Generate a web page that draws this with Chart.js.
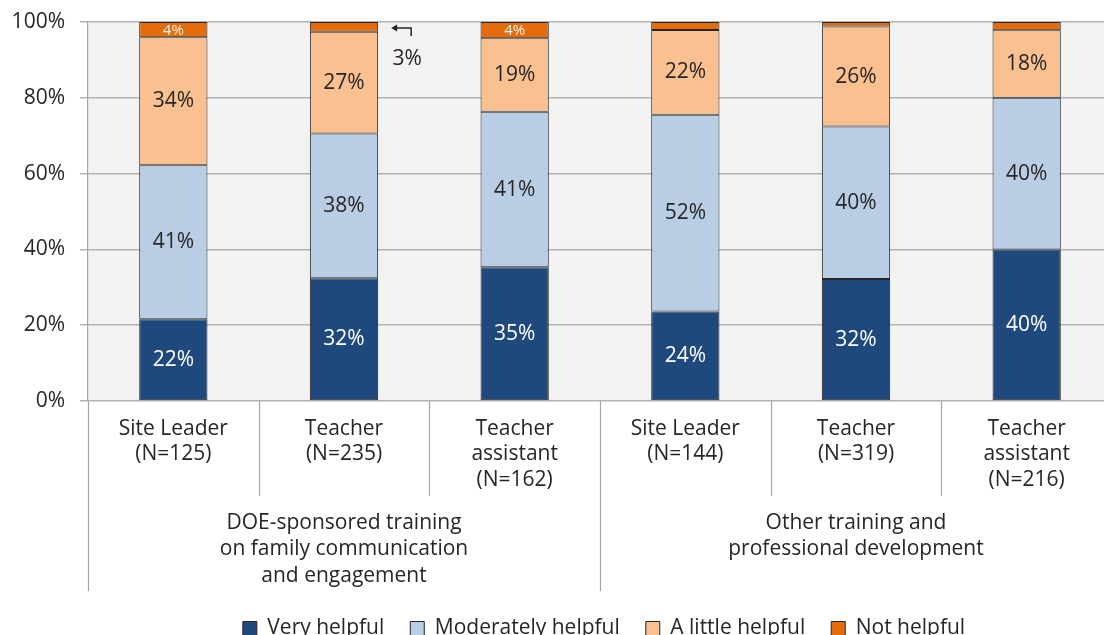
<!DOCTYPE html>
<html>
<head>
<meta charset="utf-8">
<script src="https://cdn.jsdelivr.net/npm/chart.js@4"></script>
<style>
  html, body { margin: 0; padding: 0; overflow: hidden; background: #fff; }
  #wrap { width: 1116px; height: 635px; position: relative; }
</style>
</head>
<body>
<div id="wrap"><canvas id="helpChart"></canvas></div>
<script>
// categories (multi-line labels) and the two groups under them
const categories = [
  ["Site Leader", "(N=125)"],
  ["Teacher", "(N=235)"],
  ["Teacher", "assistant", "(N=162)"],
  ["Site Leader", "(N=144)"],
  ["Teacher", "(N=319)"],
  ["Teacher", "assistant", "(N=216)"]
];
const groupLabels = [
  ["DOE-sponsored training", "on family communication", "and engagement"],
  ["Other training and", "professional development"]
];
const groupSizes = [3, 3];

// percent of respondents
const veryHelpful = [21.6, 32.4, 35.3, 23.6, 32.2, 40.0];
const moderatelyHelpful = [40.6, 38.2, 41.0, 51.9, 40.2, 40.0];
const littleHelpful = [33.8, 26.8, 19.4, 22.4, 26.4, 17.8];
const notHelpful = [4.0, 2.6, 4.3, 2.1, 1.2, 2.2];
// how the "Not helpful" value is labelled: inside, callout, or not at all
const notHelpfulLabel = ["in", "out", "in", "", "", ""];

const yTicks = [0, 20, 40, 60, 80, 100];

const FONT = "'Open Sans', sans-serif";
const TEXT = "#262626";

// grey plot background
const plotBg = {
  id: "plotBg",
  beforeDraw(chart) {
    const a = chart.chartArea;
    const ctx = chart.ctx;
    ctx.save();
    ctx.fillStyle = "#f2f2f2";
    ctx.fillRect(a.left, a.top, a.right - a.left, a.bottom - a.top);
    ctx.restore();
  }
};

// legend centred under the plot, pushed to the bottom
const legendPlace = {
  id: "legendPlace",
  afterLayout(chart) {
    const lg = chart.legend;
    const a = chart.chartArea;
    const dx = (a.left + a.right) / 2 - (lg.left + lg.right) / 2 + 4;
    lg.left += dx; lg.right += dx;
    lg.top += 14; lg.bottom += 14;
  }
};

// value labels on the segments
const segmentLabels = {
  id: "segmentLabels",
  afterDatasetsDraw(chart) {
    const ctx = chart.ctx;
    ctx.save();
    ctx.textAlign = "center";
    ctx.textBaseline = "middle";
    chart.data.datasets.forEach((ds, i) => {
      const meta = chart.getDatasetMeta(i);
      meta.data.forEach((bar, j) => {
        const txt = Math.round(ds.data[j]) + "%";
        const mid = (bar.y + bar.base) / 2;
        if (i === 3) {
          if (notHelpfulLabel[j] === "in") {
            ctx.font = "15px " + FONT;
            ctx.fillStyle = "#f2f2f2";
            ctx.fillText(txt, bar.x, mid + 1);
          } else if (notHelpfulLabel[j] === "out") {
            const r = bar.x + bar.width / 2;
            const ay = mid + 1;
            ctx.strokeStyle = TEXT;
            ctx.lineWidth = 1.5;
            ctx.beginPath();
            ctx.moveTo(r + 15, ay);
            ctx.lineTo(r + 33, ay);
            ctx.lineTo(r + 33, ay + 8);
            ctx.stroke();
            ctx.fillStyle = TEXT;
            ctx.beginPath();
            ctx.moveTo(r + 13, ay);
            ctx.lineTo(r + 19, ay - 3.5);
            ctx.lineTo(r + 19, ay + 3.5);
            ctx.closePath();
            ctx.fill();
            ctx.font = "21px " + FONT;
            ctx.fillText(txt, r + 29, mid + 32);
          }
          return;
        }
        ctx.font = "21px " + FONT;
        ctx.fillStyle = i === 0 ? "#ffffff" : TEXT;
        ctx.fillText(txt, bar.x, mid);
      });
    });
    ctx.restore();
  }
};

// category separators and group labels under the axis
const groupAxis = {
  id: "groupAxis",
  afterDraw(chart) {
    const ctx = chart.ctx;
    const x = chart.scales.x;
    const bottom = chart.chartArea.bottom;
    const step = (x.right - x.left) / categories.length;
    const edges = [0];
    groupSizes.forEach(n => edges.push(edges[edges.length - 1] + n));
    ctx.save();
    ctx.strokeStyle = "#a6a6a6";
    ctx.lineWidth = 1.2;
    for (let k = 0; k <= categories.length; k++) {
      const px = Math.round(x.left + k * step) + 0.5;
      const long = edges.includes(k);
      ctx.beginPath();
      ctx.moveTo(px, bottom);
      ctx.lineTo(px, bottom + (long ? 190 : 95));
      ctx.stroke();
    }
    ctx.fillStyle = TEXT;
    ctx.font = "21px " + FONT;
    ctx.textAlign = "center";
    ctx.textBaseline = "middle";
    groupLabels.forEach((lines, g) => {
      const cx = x.left + step * (edges[g] + groupSizes[g] / 2);
      lines.forEach((line, l) => ctx.fillText(line, cx, bottom + 122 + l * 26.5));
    });
    ctx.restore();
  }
};

const datasetStyle = { borderColor: "#262626", borderWidth: 1, borderSkipped: false };

new Chart(document.getElementById("helpChart"), {
  type: "bar",
  data: {
    labels: categories,
    datasets: [
      { label: "Very helpful", data: veryHelpful, backgroundColor: "#1f497d", ...datasetStyle },
      { label: "Moderately helpful", data: moderatelyHelpful, backgroundColor: "#b9cde5", ...datasetStyle },
      { label: "A little helpful", data: littleHelpful, backgroundColor: "#fac090", ...datasetStyle },
      { label: "Not helpful", data: notHelpful, backgroundColor: "#e46c0a", ...datasetStyle }
    ]
  },
  options: {
    responsive: true,
    maintainAspectRatio: false,
    animation: false,
    categoryPercentage: 1,
    barPercentage: 0.4,
    layout: { padding: { top: 22, right: 4, left: 0, bottom: 0 } },
    scales: {
      x: {
        stacked: true,
        grid: { display: false, drawTicks: false },
        border: { display: false },
        ticks: {
          autoSkip: false,
          maxRotation: 0,
          padding: 15,
          color: TEXT,
          font: { family: FONT, size: 21, lineHeight: 1.22 }
        },
        afterFit(scale) { scale.height = 177; }
      },
      y: {
        stacked: true,
        min: 0,
        max: 100,
        afterBuildTicks(scale) { scale.ticks = yTicks.map(v => ({ value: v })); },
        grid: { color: "#b3b3b3", lineWidth: 1.5, tickLength: 8 },
        border: { display: true, color: "#a6a6a6", width: 1.2 },
        ticks: {
          padding: 15,
          color: TEXT,
          font: { family: FONT, size: 21 },
          callback: v => v + "%"
        },
        afterFit(scale) {
          scale.width = 88;
          scale.paddingTop = 0;
          scale.paddingBottom = 0;
        }
      }
    },
    plugins: {
      legend: {
        position: "bottom",
        labels: {
          boxWidth: 14,
          boxHeight: 14,
          padding: 26,
          color: TEXT,
          font: { family: FONT, size: 21 }
        }
      },
      tooltip: { enabled: false }
    }
  },
  plugins: [plotBg, legendPlace, segmentLabels, groupAxis]
});
</script>
</body>
</html>
